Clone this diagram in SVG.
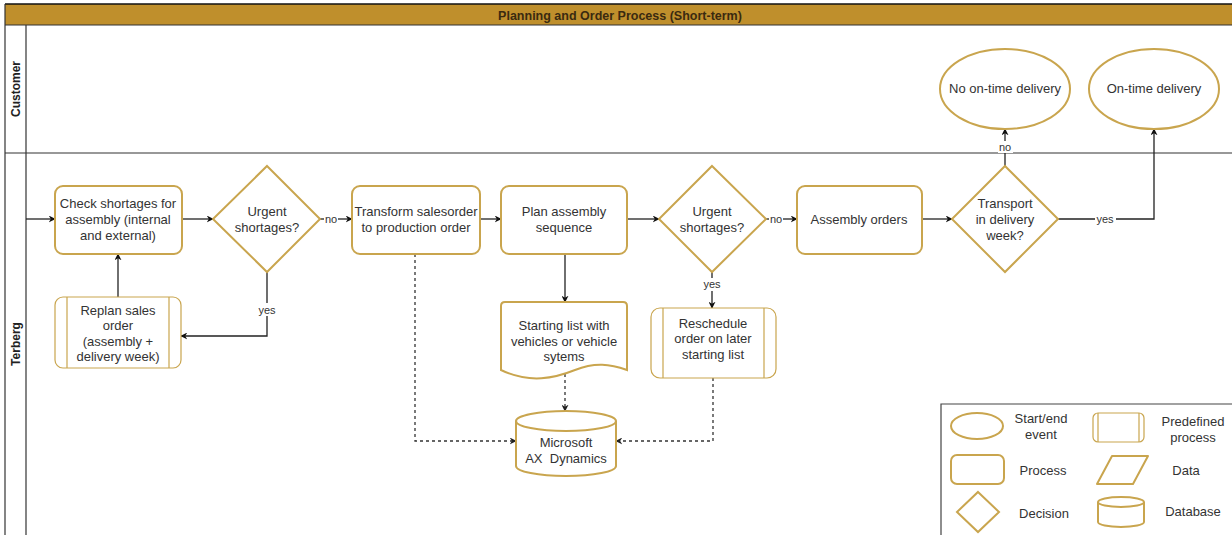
<svg xmlns="http://www.w3.org/2000/svg" width="1232" height="535" viewBox="0 0 1232 535">
  <defs>
    <marker id="arrow" viewBox="0 0 10 10" refX="9" refY="5" markerWidth="7" markerHeight="7" orient="auto" markerUnits="userSpaceOnUse">
      <path d="M0,0 L10,5 L0,10 L3,5 Z" fill="#111"/>
    </marker>
    <marker id="arrowd" viewBox="0 0 10 10" refX="9" refY="5" markerWidth="7" markerHeight="7" orient="auto" markerUnits="userSpaceOnUse">
      <path d="M0,0 L10,5 L0,10 L3,5 Z" fill="#222"/>
    </marker>
  </defs>
  <style>
    text { font-family: "Liberation Sans", Arial, sans-serif; font-size: 13px; fill: #333; text-anchor: middle; }
    .shape { fill: #fff; stroke: #C9A54E; stroke-width: 2; }
    .thin { fill: #fff; stroke: #C9A54E; stroke-width: 1.2; }
    .edge { fill: none; stroke: #222; stroke-width: 1.3; }
    .dash { fill: none; stroke: #333; stroke-width: 1.3; stroke-dasharray: 3 3; }
    .lbl { font-size: 11px; }
    .pool { fill: none; stroke: #333; stroke-width: 1.2; }
    .lane { font-weight: bold; font-size: 12px; fill: #222; }
  </style>

  <rect width="1232" height="535" fill="#fff"/>

  <!-- pool with header band and two lanes -->
  <g id="pool">
    <rect x="5" y="4" width="1230" height="21" fill="#BF8F2C"/>
    <line x1="5" y1="4" x2="1232" y2="4" stroke="#111" stroke-width="1.6"/>
    <line x1="5" y1="25" x2="1232" y2="25" class="pool"/>
    <line x1="5" y1="4" x2="5" y2="535" class="pool"/>
    <line x1="26" y1="25" x2="26" y2="535" class="pool"/>
    <line x1="5" y1="153" x2="1232" y2="153" class="pool"/>
    <text x="620" y="19.5" style="font-weight:bold;font-size:12.5px;fill:#3a2a10">Planning and Order Process (Short-term)</text>
    <text class="lane" transform="translate(20,89) rotate(-90)">Customer</text>
    <text class="lane" transform="translate(20,344) rotate(-90)">Terberg</text>
  </g>

  <!-- connectors -->
  <g id="connectors">
    <path class="edge" d="M26,219 H55" marker-end="url(#arrow)"/>
    <path class="edge" d="M182,219 H213" marker-end="url(#arrow)"/>
    <path class="edge" d="M320,219 H352" marker-end="url(#arrow)"/>
    <path class="edge" d="M267,272 V336 H181" marker-end="url(#arrow)"/>
    <path class="edge" d="M118,297 V254" marker-end="url(#arrow)"/>
    <path class="edge" d="M480,219 H501" marker-end="url(#arrow)"/>
    <path class="edge" d="M627,219 H659" marker-end="url(#arrow)"/>
    <path class="edge" d="M766,219 H797" marker-end="url(#arrow)"/>
    <path class="edge" d="M712,272 V308" marker-end="url(#arrow)"/>
    <path class="edge" d="M565,254 V302" marker-end="url(#arrow)"/>
    <path class="edge" d="M922,219 H952" marker-end="url(#arrow)"/>
    <path class="edge" d="M1005,166 V129" marker-end="url(#arrow)"/>
    <path class="edge" d="M1058,219 H1154 V129" marker-end="url(#arrow)"/>
    <path class="dash" d="M565,368 V411" marker-end="url(#arrowd)"/>
    <path class="dash" d="M415,254 V441 H516" marker-end="url(#arrowd)"/>
    <path class="dash" d="M713,378 V441 H616" marker-end="url(#arrowd)"/>

    <!-- edge labels -->
    <rect x="324" y="212" width="14" height="13" fill="#fff"/>
    <text class="lbl" x="331" y="223">no</text>
    <rect x="257" y="303" width="21" height="13" fill="#fff"/>
    <text class="lbl" x="267" y="314">yes</text>
    <rect x="769" y="212" width="14" height="13" fill="#fff"/>
    <text class="lbl" x="776" y="223">no</text>
    <rect x="702" y="278" width="21" height="13" fill="#fff"/>
    <text class="lbl" x="712" y="288">yes</text>
    <rect x="998" y="141" width="15" height="12" fill="#fff"/>
    <text class="lbl" x="1005" y="151">no</text>
    <rect x="1095" y="212" width="21" height="13" fill="#fff"/>
    <text class="lbl" x="1105" y="223">yes</text>
  </g>

  <g id="check-shortages">
    <rect class="shape" x="55" y="186" width="127" height="68" rx="8"/>
    <text x="118" y="208">Check shortages for</text>
    <text x="118" y="224">assembly (internal</text>
    <text x="118" y="240">and external)</text>
  </g>

  <g id="urgent-1">
    <polygon class="shape" points="267,166 320,219 267,272 213,219"/>
    <text x="267" y="216">Urgent</text>
    <text x="267" y="232">shortages?</text>
  </g>

  <g id="transform-order">
    <rect class="shape" x="352" y="186" width="128" height="68" rx="8"/>
    <text x="416" y="216">Transform salesorder</text>
    <text x="416" y="232">to production order</text>
  </g>

  <g id="plan-sequence">
    <rect class="shape" x="501" y="186" width="126" height="68" rx="8"/>
    <text x="564" y="216">Plan assembly</text>
    <text x="564" y="232">sequence</text>
  </g>

  <g id="urgent-2">
    <polygon class="shape" points="712,166 766,219 712,272 659,219"/>
    <text x="712" y="216">Urgent</text>
    <text x="712" y="232">shortages?</text>
  </g>

  <g id="assembly-orders">
    <rect class="shape" x="797" y="186" width="125" height="68" rx="8"/>
    <text x="859" y="224">Assembly orders</text>
  </g>

  <g id="transport-week">
    <polygon class="shape" points="1005,166 1058,219 1005,272 952,219"/>
    <text x="1005" y="208">Transport</text>
    <text x="1005" y="224">in delivery</text>
    <text x="1005" y="240">week?</text>
  </g>

  <g id="no-on-time">
    <ellipse class="shape" cx="1005" cy="89" rx="65" ry="40"/>
    <text x="1005" y="93">No on-time delivery</text>
  </g>

  <g id="on-time">
    <ellipse class="shape" cx="1154" cy="89" rx="65" ry="40"/>
    <text x="1154" y="93">On-time delivery</text>
  </g>

  <g id="replan-sales">
    <rect class="thin" x="55" y="297" width="126" height="71" rx="8"/>
    <line x1="67" y1="297" x2="67" y2="368" stroke="#C9A54E" stroke-width="1.2"/>
    <line x1="169" y1="297" x2="169" y2="368" stroke="#C9A54E" stroke-width="1.2"/>
    <text x="118" y="315">Replan sales</text>
    <text x="118" y="330">order</text>
    <text x="118" y="346">(assembly +</text>
    <text x="118" y="361">delivery week)</text>
  </g>

  <g id="starting-list">
    <path class="shape" d="M505,302 H623 Q627,302 627,306 V370 C610,364 595,362 575,370 C555,378 530,384 501,370 V306 Q501,302 505,302 Z"/>
    <text x="564" y="330">Starting list with</text>
    <text x="564" y="346">vehicles or vehicle</text>
    <text x="564" y="361">sytems</text>
  </g>

  <g id="reschedule">
    <rect class="thin" x="651" y="308" width="125" height="70" rx="9"/>
    <line x1="663" y1="308" x2="663" y2="378" stroke="#C9A54E" stroke-width="1.2"/>
    <line x1="764" y1="308" x2="764" y2="378" stroke="#C9A54E" stroke-width="1.2"/>
    <text x="713" y="328">Reschedule</text>
    <text x="713" y="343">order on later</text>
    <text x="713" y="359">starting list</text>
  </g>

  <g id="ax-dynamics">
    <path class="shape" d="M516,421 A50,10 0 0 1 616,421 V466 A50,10 0 0 1 516,466 Z"/>
    <path class="shape" d="M516,421 A50,10 0 0 0 616,421" fill="none"/>
    <text x="566" y="447">Microsoft</text>
    <text x="566" y="463" xml:space="preserve">AX  Dynamics</text>
  </g>

  <!-- legend -->
  <g id="legend">
    <path d="M941,535 V404 H1232" fill="none" stroke="#444" stroke-width="1.2"/>
    <ellipse class="shape" cx="977" cy="426" rx="26" ry="13"/>
    <text x="1041" y="423">Start/end</text>
    <text x="1041" y="439">event</text>

    <rect class="thin" x="1093" y="413" width="51" height="29" rx="5"/>
    <line x1="1098" y1="413" x2="1098" y2="442" stroke="#C9A54E" stroke-width="1.2"/>
    <line x1="1139" y1="413" x2="1139" y2="442" stroke="#C9A54E" stroke-width="1.2"/>
    <text x="1193" y="426">Predefined</text>
    <text x="1193" y="442">process</text>

    <rect class="shape" x="951" y="455" width="53" height="29" rx="6"/>
    <text x="1043" y="475">Process</text>

    <path class="shape" d="M1112,456 H1148 L1133,484 H1097 Z" stroke-linejoin="round"/>
    <text x="1186" y="475">Data</text>

    <polygon class="shape" points="978,492 999,512 978,532 957,512"/>
    <text x="1044" y="518">Decision</text>

    <path class="shape" d="M1098,502 A23,5 0 0 1 1144,502 V522 A23,5 0 0 1 1098,522 Z"/>
    <path class="shape" d="M1098,502 A23,5 0 0 0 1144,502" fill="none"/>
    <text x="1193" y="516">Database</text>
  </g>
</svg>
